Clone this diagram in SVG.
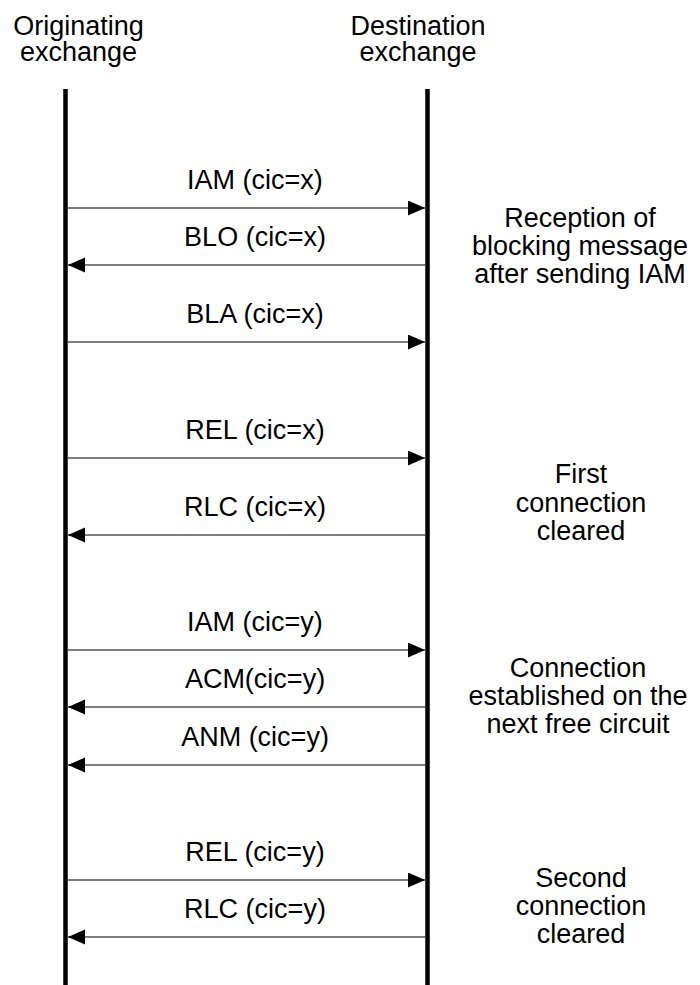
<svg xmlns="http://www.w3.org/2000/svg" width="700" height="985" viewBox="0 0 700 985">
  <style>
    text { font-family: "Liberation Sans", Arial, sans-serif; font-size: 27px; fill: #000; text-anchor: middle; }
    .lifeline { stroke: #000; stroke-width: 4.5; }
    .msg { stroke: #000; stroke-width: 1.2; fill: none; marker-end: url(#head); }
  </style>
  <defs>
    <marker id="head" markerUnits="userSpaceOnUse" markerWidth="18" markerHeight="16" refX="17" refY="7.5" orient="auto">
      <path d="M0,0 L17,7.5 L0,15 Z" fill="#000"/>
    </marker>
  </defs>

  <!-- exchanges -->
  <g id="originating">
    <text x="78.5" y="35">Originating</text>
    <text x="78.5" y="61">exchange</text>
    <line class="lifeline" x1="65.5" y1="89" x2="65.5" y2="985"/>
  </g>
  <g id="destination">
    <text x="418" y="35">Destination</text>
    <text x="418" y="61">exchange</text>
    <line class="lifeline" x1="427.5" y1="89" x2="427.5" y2="985"/>
  </g>

  <!-- messages -->
  <g id="connectors">
    <line class="msg" x1="68" y1="208" x2="425" y2="208"/>
    <line class="msg" x1="425" y1="265" x2="68" y2="265"/>
    <line class="msg" x1="68" y1="342" x2="425" y2="342"/>
    <line class="msg" x1="68" y1="458" x2="425" y2="458"/>
    <line class="msg" x1="425" y1="535" x2="68" y2="535"/>
    <line class="msg" x1="68" y1="650" x2="425" y2="650"/>
    <line class="msg" x1="425" y1="707" x2="68" y2="707"/>
    <line class="msg" x1="425" y1="765" x2="68" y2="765"/>
    <line class="msg" x1="68" y1="880" x2="425" y2="880"/>
    <line class="msg" x1="425" y1="937" x2="68" y2="937"/>
  </g>

  <g id="labels">
    <text x="255" y="189">IAM (cic=x)</text>
    <text x="255" y="246">BLO (cic=x)</text>
    <text x="255" y="323">BLA (cic=x)</text>
    <text x="255" y="439">REL (cic=x)</text>
    <text x="255" y="516">RLC (cic=x)</text>
    <text x="255" y="631">IAM (cic=y)</text>
    <text x="255" y="688">ACM(cic=y)</text>
    <text x="255" y="746">ANM (cic=y)</text>
    <text x="255" y="861">REL (cic=y)</text>
    <text x="255" y="918">RLC (cic=y)</text>
  </g>

  <!-- phase notes -->
  <g id="note-blocking">
    <text x="580" y="227">Reception of</text>
    <text x="580" y="255">blocking message</text>
    <text x="580" y="283">after sending IAM</text>
  </g>
  <g id="note-first">
    <text x="581" y="483">First</text>
    <text x="581" y="511.5">connection</text>
    <text x="581" y="540">cleared</text>
  </g>
  <g id="note-connection">
    <text x="578" y="677">Connection</text>
    <text x="578" y="705">established on the</text>
    <text x="578" y="733">next free circuit</text>
  </g>
  <g id="note-second">
    <text x="581" y="887">Second</text>
    <text x="581" y="915">connection</text>
    <text x="581" y="943">cleared</text>
  </g>
</svg>
